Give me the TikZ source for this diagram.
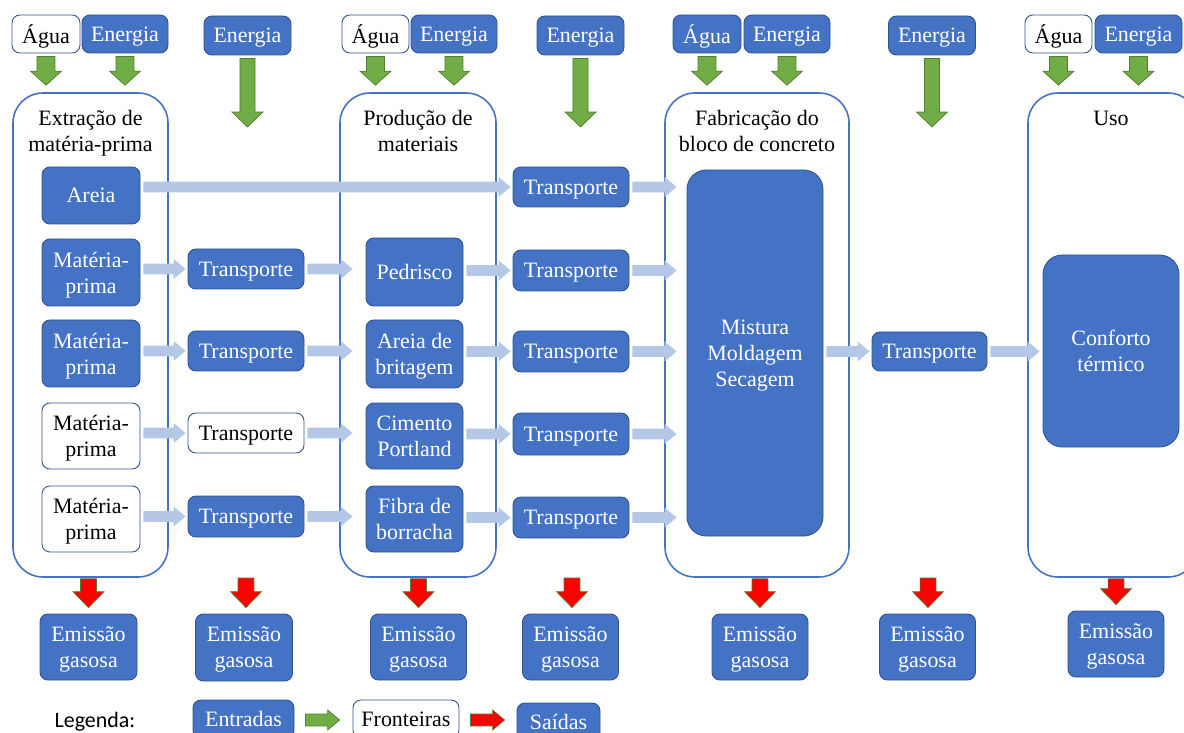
\documentclass[tikz,border=0pt]{standalone}
\usepackage{fontspec}
\setmainfont{Liberation Serif}
\newfontfamily\legendfont{Carlito}
\usepackage{tikz}
\usetikzlibrary{calc}

\definecolor{boxblue}{HTML}{4472C4}
\definecolor{boxline}{HTML}{2F528F}
\definecolor{flowblue}{HTML}{B4C7E7}
\definecolor{ingreen}{HTML}{70AD47}
\definecolor{greenline}{HTML}{507E32}
\definecolor{outred}{HTML}{FF0000}

\begin{document}
\begin{tikzpicture}
			[
				x=0.02cm, y=-0.02cm,
				font=\fontsize{12.5}{14.8}\selectfont,
				align=center,
				text depth=0pt,
				sz/.style 2 args={minimum width=#1*0.02cm, minimum height=#2*0.02cm},
				fillbox/.style={rectangle, rounded corners=4.5pt, inner sep=0pt, fill=boxblue, draw=boxline, line width=0.5pt, text=white},
				openbox/.style={fillbox, fill=white, text=black},
				stage/.style={rectangle, rounded corners=17pt, inner sep=0pt, draw=boxblue, line width=0.9pt},
				title/.style={draw=none, fill=none, text=black},
				pointdown/.style n args={3}{to path={let \p1=(\tikztostart), \p2=(\tikztotarget) in
					(\x1-#1,\y1) -- (\x1+#1,\y1) -- (\x1+#1,\y2+#3) -- (\x1+#2,\y2+#3)
					-- (\x1,\y2) -- (\x1-#2,\y2+#3) -- (\x1-#1,\y2+#3) -- cycle}},
				pointright/.style n args={3}{to path={let \p1=(\tikztostart), \p2=(\tikztotarget) in
					(\x1,\y1+#1) -- (\x2-#3,\y1+#1) -- (\x2-#3,\y1+#2) -- (\x2,\y1)
					-- (\x2-#3,\y1-#2) -- (\x2-#3,\y1-#1) -- (\x1,\y1-#1) -- cycle}},
				inarrow/.style={pointdown={5.1pt}{8.8pt}{8pt}, fill=ingreen, draw=greenline, line width=0.4pt},
				biginarrow/.style={pointdown={4.3pt}{8.8pt}{8.5pt}, fill=ingreen, draw=greenline, line width=0.4pt},
				outarrow/.style={pointdown={4.5pt}{8.8pt}{9pt}, fill=outred, draw=greenline, line width=0.4pt},
				flow/.style={pointright={3.1pt}{5.7pt}{6.8pt}, fill=flowblue, draw=none},
			]

			\useasboundingbox (0,0) rectangle (1184,733);

			% inputs
			\node[openbox,sz={68}{38}] (a1) at (   46.0,  34.0 ) {Água};
			\node[fillbox,sz={86}{38}] (e1) at (  125.0,  34.0 ) {Energia};
			\node[fillbox,sz={87}{39}] (e2) at (  247.5,  35.5 ) {Energia};
			\node[openbox,sz={67}{38}] (a3) at (  375.5,  34.0 ) {Água};
			\node[fillbox,sz={86}{38}] (e3) at (  454.0,  34.0 ) {Energia};
			\node[fillbox,sz={87}{39}] (e4) at (  580.5,  35.5 ) {Energia};
			\node[fillbox,sz={68}{38}] (a5) at (  707.0,  34.0 ) {Água};
			\node[fillbox,sz={86}{38}] (e5) at (  787.0,  34.0 ) {Energia};
			\node[fillbox,sz={87}{39}] (e6) at (  932.0,  35.5 ) {Energia};
			\node[openbox,sz={67}{38}] (a7) at ( 1058.5,  34.0 ) {Água};
			\node[fillbox,sz={87}{38}] (e7) at ( 1138.5,  34.0 ) {Energia};

			% boundaries
			\node[stage,sz={155}{484}] (s1) at (   90.5, 335.0 ) {};
			\node[stage,sz={156}{484}] (s2) at (  418.0, 335.0 ) {};
			\node[stage,sz={184}{484}] (s3) at (  757.0, 335.0 ) {};
			\node[stage,sz={170}{484}] (s4) at ( 1113.0, 335.0 ) {};

			\node[title] (s1title) at (   90.5, 131.0 ) {Extração de\\matéria-prima};
			\node[title] (s2title) at (  418.0, 131.0 ) {Produção de\\materiais};
			\node[title] (s3title) at (  757.0, 131.0 ) {Fabricação do\\bloco de concreto};
			\node[title] (s4title) at ( 1111.0, 118.0 ) {Uso};

			% raw materials
			\node[fillbox,sz={98}{57}] (areia) at (  91.0, 195.5 ) {Areia};
			\node[fillbox,sz={98}{67}] (mp1) at (  91.0, 272.5 ) {Matéria-\\prima};
			\node[fillbox,sz={98}{67}] (mp2) at (  91.0, 353.5 ) {Matéria-\\prima};
			\node[openbox,sz={98}{66}] (mp3) at (  91.0, 436.0 ) {Matéria-\\prima};
			\node[openbox,sz={98}{66}] (mp4) at (  91.0, 519.0 ) {Matéria-\\prima};

			% transport 1
			\node[fillbox,sz={116}{40}] (t1) at ( 246.0, 269.0 ) {Transporte};
			\node[fillbox,sz={116}{40}] (t2) at ( 246.0, 351.0 ) {Transporte};
			\node[openbox,sz={116}{40}] (t3) at ( 246.0, 433.0 ) {Transporte};
			\node[fillbox,sz={116}{41}] (t4) at ( 246.0, 516.5 ) {Transporte};

			% materials
			\node[fillbox,sz={97}{68}] (pedrisco) at ( 414.5, 272.0 ) {Pedrisco};
			\node[fillbox,sz={97}{68}] (areiab) at ( 414.5, 354.0 ) {Areia de\\britagem};
			\node[fillbox,sz={97}{66}] (cimento) at ( 414.5, 436.0 ) {Cimento\\Portland};
			\node[fillbox,sz={97}{66}] (fibra) at ( 414.5, 519.0 ) {Fibra de\\borracha};

			% transport 2
			\node[fillbox,sz={116}{40}] (t0) at ( 571.0, 187.0 ) {Transporte};
			\node[fillbox,sz={116}{41}] (t5) at ( 571.0, 270.5 ) {Transporte};
			\node[fillbox,sz={116}{41}] (t6) at ( 571.0, 351.5 ) {Transporte};
			\node[fillbox,sz={116}{42}] (t7) at ( 571.0, 434.0 ) {Transporte};
			\node[fillbox,sz={116}{41}] (t8) at ( 571.0, 517.5 ) {Transporte};

			% block, transport 3, use
			\node[fillbox,rounded corners=11pt,sz={136}{366}] (mistura) at ( 755.0, 353.0 ) {Mistura\\Moldagem\\Secagem};
			\node[fillbox,sz={115}{39}] (t9) at ( 929.5, 351.5 ) {Transporte};
			\node[fillbox,rounded corners=11pt,sz={136}{192}] (conforto) at ( 1111.0, 351.0 ) {Conforto\\térmico};

			% emissions
			\node[fillbox,sz={97}{66}] (em1) at (   88.5, 647.0 ) {Emissão\\gasosa};
			\node[fillbox,sz={97}{67}] (em2) at (  244.0, 647.5 ) {Emissão\\gasosa};
			\node[fillbox,sz={96}{66}] (em3) at (  418.5, 647.0 ) {Emissão\\gasosa};
			\node[fillbox,sz={96}{66}] (em4) at (  570.5, 647.0 ) {Emissão\\gasosa};
			\node[fillbox,sz={96}{66}] (em5) at (  760.0, 647.0 ) {Emissão\\gasosa};
			\node[fillbox,sz={96}{66}] (em6) at (  927.5, 647.0 ) {Emissão\\gasosa};
			\node[fillbox,sz={96}{66}] (em7) at ( 1116.0, 644.0 ) {Emissão\\gasosa};

			% free ends
			\coordinate (g2) at (  247.5, 127.0 );
			\coordinate (g4) at (  580.5, 127.0 );
			\coordinate (g6) at (  932.0, 127.0 );
			\coordinate (r2) at (  246.0, 578.0 );
			\coordinate (r4) at (  572.0, 578.0 );
			\coordinate (r6) at (  928.0, 578.0 );

			% input arrows
			\foreach \from/\to in {a1/s1,e1/s1,a3/s2,e3/s2,a5/s3,e5/s3,a7/s4,e7/s4}
			\draw[inarrow] ($(\from.south)+(0,3)$) to ($(\from.south |- \to.north)+(0,-7)$);

			\foreach \from/\to in {e2/g2,e4/g4,e6/g6}
			\draw[biginarrow] ($(\from.south)+(0,3)$) to (\to);

			% flows
			\foreach \from/\to/\row/\gap in {areia/t0/t0/2,mp1/t1/t1/2,mp2/t2/t2/2,mp3/t3/t3/2,mp4/t4/t4/2,
				t1/pedrisco/t1/13,t2/areiab/t2/13,t3/cimento/t3/13,t4/fibra/t4/13,
				pedrisco/t5/t5/2,areiab/t6/t6/2,cimento/t7/t7/2,fibra/t8/t8/2,
				t0/mistura/t0/10,t5/mistura/t5/10,t6/mistura/t6/10,t7/mistura/t7/10,t8/mistura/t8/10,
				mistura/t9/t9/2,t9/conforto/t9/3}
			\fill[flow] ($(\from.east |- \row.west)+(3,0)$) to ($(\to.west |- \row.west)+(-\gap,0)$);

			% output arrows
			\foreach \from/\to in {s1/em1,s2/em3,s3/em5,s4/em7}
			\draw[outarrow] ($(\to.north |- \from.south)+(0,1)$) to ($(\to.north)+(0,-6)$);

			\foreach \from/\to in {r2/em2,r4/em4,r6/em6}
			\draw[outarrow] (\from) to ($(\to.north)+(0,-6)$);

			% legend
			\node[font=\legendfont\fontsize{12.5}{14.8}\selectfont] (legenda) at ( 95.0, 720.0 ) {Legenda:};
			\node[fillbox,sz={101}{38}] (entradas) at ( 243.5, 719.0 ) {Entradas};
			\node[openbox,sz={106}{38}] (fronteiras) at ( 406.0, 719.0 ) {Fronteiras};
			\node[fillbox,sz={83}{38}] (saidas) at ( 558.5, 722.0 ) {Saídas};

			\draw[pointright={3.4pt}{5.7pt}{6.8pt}, fill=ingreen, draw=greenline, line width=0.4pt]
				($(entradas.east)+(11,1)$) to ($(fronteiras.west)+(-13,1)$);
			\draw[pointright={3.4pt}{5.7pt}{6.8pt}, fill=outred, draw=greenline, line width=0.4pt]
				($(fronteiras.east)+(11,1)$) to ($(saidas.west)+(-12,1)$);

		\end{tikzpicture}
\end{document}
